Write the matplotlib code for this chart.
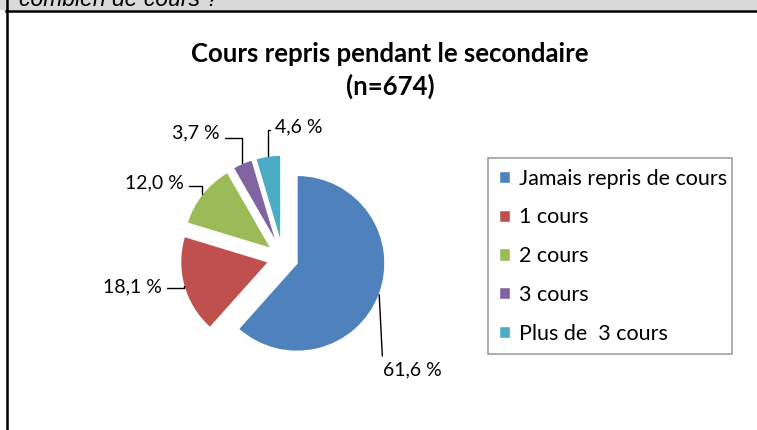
import matplotlib.pyplot as plt
from matplotlib.lines import Line2D
from matplotlib.patches import Rectangle
import numpy as np

# data
categories = ['Jamais repris de cours', '1 cours', '2 cours', '3 cours', 'Plus de  3 cours']
values = [61.6, 18.1, 12.0, 3.7, 4.6]
labels = ['61,6 %', '18,1 %', '12,0 %', '3,7 %', '4,6 %']
colors = ['#4F81BD', '#C0504D', '#9BBB59', '#8064A2', '#4BACC6']

W, H = 757, 430
R = 88.0           # pie radius in px
cx, cy = 283, 258  # pie centre in px (from top-left)
explode = 0.17

plt.rcParams['font.family'] = ['Lato', 'DejaVu Sans']

fig = plt.figure(figsize=(W / 100, H / 100), dpi=100)
ax = fig.add_axes([0, 0, 1, 1])

# frame of the surrounding table
fig.patches.append(Rectangle((0, 1 - 10 / H), 1, 10 / H, transform=fig.transFigure,
                             facecolor='#d9d9d9', edgecolor='none', zorder=0))
fig.lines.append(Line2D([6 / W, 1], [1 - 11 / H] * 2, transform=fig.transFigure,
                        color='black', lw=1.8))
fig.lines.append(Line2D([6.5 / W] * 2, [0, 1], transform=fig.transFigure,
                        color='black', lw=1.8))
fig.text(19 / W, 1 - 6 / H, 'combien de cours ?', fontsize=16.5, style='italic',
         family='Liberation Sans', va='baseline', ha='left')

wedges, _ = ax.pie(values, colors=colors, startangle=90, counterclock=False,
                   explode=[explode] * len(values), radius=1,
                   wedgeprops=dict(edgecolor='white', linewidth=1))
ax.set_xlim(-cx / R, (W - cx) / R)
ax.set_ylim(-(H - cy) / R, cy / R)
ax.axis('off')

# label positions (px, from top-left) and where the leader leaves the text
label_pos = [(412, 370), (132, 287), (154, 183), (196, 133), (299, 127)]
label_rel = [(0.0, 1.0), (1.0, 0.45), (1.0, 0.35), (1.0, 0.2), (0.0, 0.35)]
for w, lab, (lx, ly), rp in zip(wedges, labels, label_pos, label_rel):
    theta = np.deg2rad((w.theta1 + w.theta2) / 2)
    px, py = (1 + explode) * np.cos(theta), (1 + explode) * np.sin(theta)
    tx, ty = (lx - cx) / R, (cy - ly) / R
    ap = dict(arrowstyle='-', color='black', lw=1, shrinkA=2, shrinkB=0, relpos=rp)
    if rp[1] < 1:
        ap['connectionstyle'] = 'angle,angleA=0,angleB=90,rad=0'
    ax.annotate(lab, xy=(px, py), xytext=(tx, ty), ha='center', va='center',
                fontsize=14, arrowprops=ap)

fig.text(390 / W, 1 - 62 / H, 'Cours repris pendant le secondaire',
         ha='center', va='baseline', fontsize=18.5, fontweight='bold')
fig.text(390 / W, 1 - 95 / H, '(n=674)',
         ha='center', va='baseline', fontsize=18.5, fontweight='bold')

leg = ax.legend(wedges, categories, loc='upper left',
                bbox_to_anchor=(488 / W, 1 - 352 / H, 244 / W, 194 / H),
                bbox_transform=fig.transFigure, mode='expand',
                fontsize=15.5, frameon=True, fancybox=False,
                handlelength=0.5, handleheight=0.5, handletextpad=0.45,
                labelspacing=0.87, borderpad=0.5, borderaxespad=0)
leg.get_frame().set_edgecolor('#868686')
leg.get_frame().set_linewidth(1.2)

fig.savefig('out.png', dpi=100)
